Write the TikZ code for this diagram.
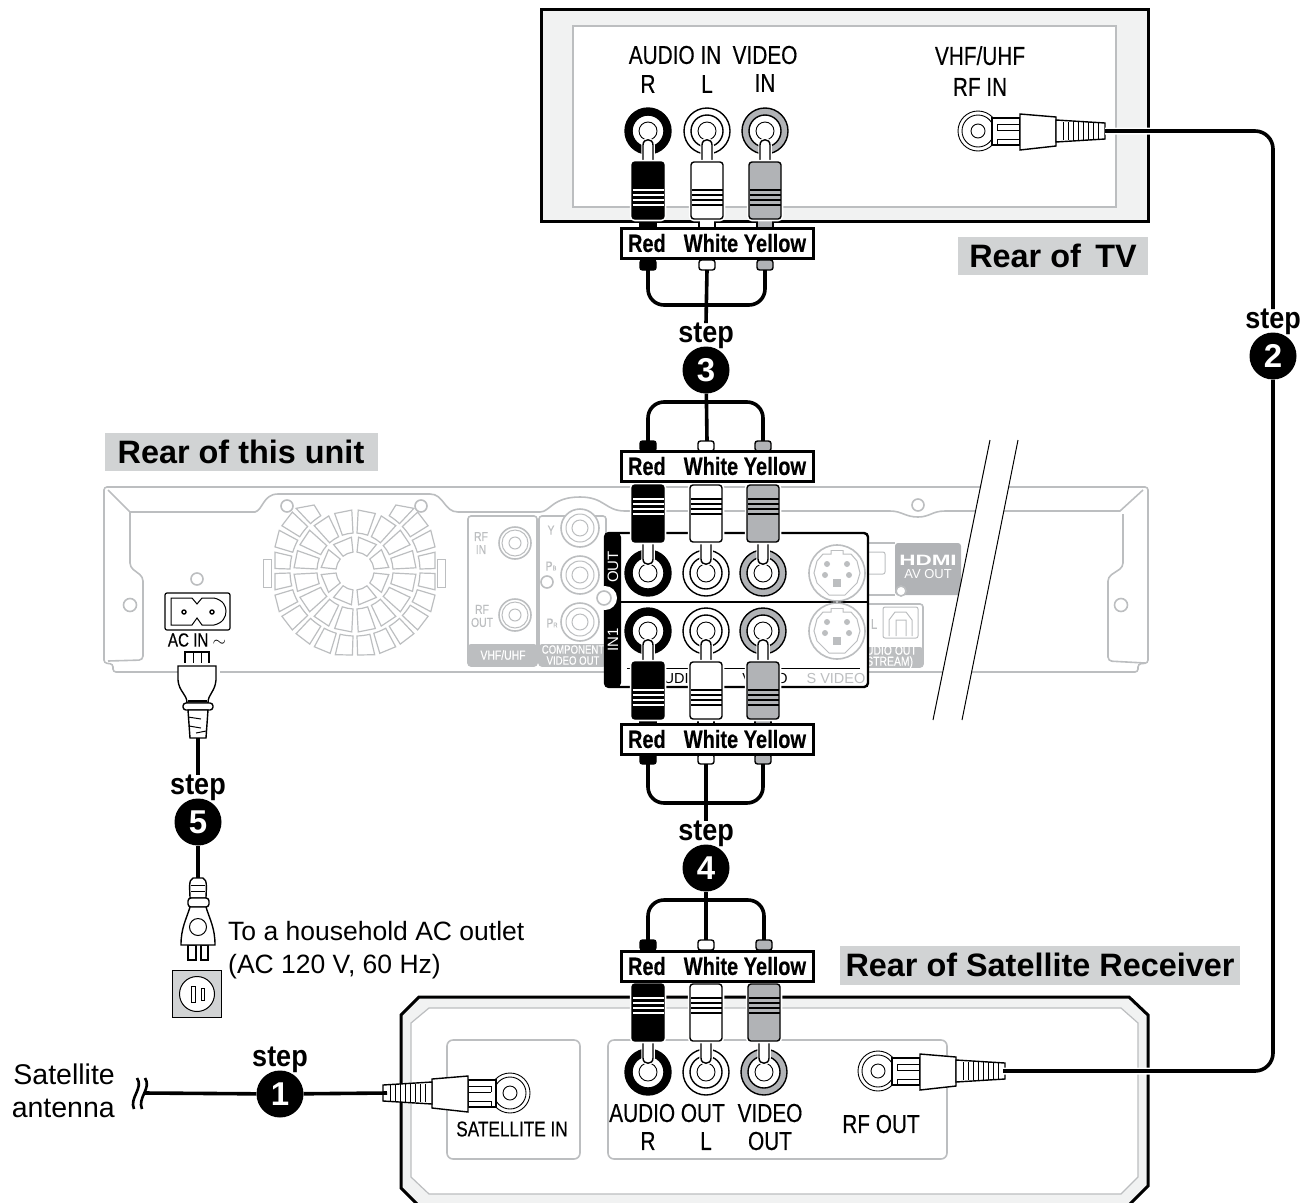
\documentclass[tikz,border=0pt]{standalone}
\usepackage{fontspec}
\setmainfont{Liberation Sans}
\newfontfamily\narrowfont[FakeStretch=0.8,FakeBold=0.3]{Liberation Sans}
\newfontfamily\stepfont[FakeStretch=0.9]{Liberation Sans}
\newfontfamily\widefont[FakeStretch=1.5]{Liberation Sans}
\usetikzlibrary{positioning,calc}
\definecolor{unitgray}{HTML}{BCBEC0}
\definecolor{jackgray}{HTML}{B1B3B6}
\definecolor{titlegray}{HTML}{D1D3D4}
\definecolor{bandgray}{HTML}{F1F2F2}
\begin{document}
\begin{tikzpicture}[
  x=1pt,y=-1pt,
  cable/.style={line width=3.6pt},
  coaxcable/.style={cable,preaction={draw=white,line width=7pt}},
  plugline/.style={draw=black,line width=1.4pt},
  unitline/.style={draw=unitgray,line width=1.6pt},
  tagbox/.style={draw,line width=3pt,fill=white,minimum width=192pt,minimum height=30pt,inner sep=0pt,
    font=\narrowfont\bfseries\fontsize{25}{25}\selectfont},
  titlebox/.style={fill=titlegray,inner sep=0pt,font=\bfseries\fontsize{32.4}{32}\selectfont},
  stepdot/.style={circle,fill=black,text=white,inner sep=0pt,minimum size=47pt,
    font=\bfseries\fontsize{33}{33}\selectfont},
  steptext/.style={inner sep=0pt,font=\stepfont\bfseries\fontsize{30}{30}\selectfont},
  sign/.style={inner sep=0pt,align=center,font=\narrowfont\fontsize{26}{29}\selectfont},
  signsmall/.style={inner sep=0pt,align=center,font=\narrowfont\fontsize{21.5}{24}\selectfont},
  plain/.style={inner sep=0pt,align=left,font=\fontsize{26.5}{33}\selectfont},
  unittext/.style={inner sep=0pt,align=center,text=unitgray,font=\narrowfont\fontsize{13}{13}\selectfont},
  bandtext/.style={inner sep=0pt,align=center,text=white,font=\narrowfont\fontsize{13}{11.5}\selectfont},
  pics/rcajack/.style={code={
    \draw[plugline,fill=#1] (0,0) circle (23pt);
    \draw[plugline,fill=white] (0,0) circle (16pt);
    \draw[line width=0.9pt] (0,0) circle (9pt);
  }},
  pics/rcaplug/.style 2 args={code={
    \draw[white,line width=3.5pt] (-5,32) -- (-5,14) .. controls (-5,7) and (5,7) .. (5,14) -- (5,32);
    \draw[plugline,fill=white] (-5,32) -- (-5,14) .. controls (-5,7) and (5,7) .. (5,14) -- (5,32);
    \draw[plugline,fill=#1] (-8,88) rectangle (8,98);
    \draw[white,line width=4.5pt,rounded corners=3pt] (-16,31) rectangle (16,88);
    \draw[plugline,fill=#1,rounded corners=3pt] (-16,31) rectangle (16,88);
    \foreach \band in {59,64,69,74}
      \draw[#2,line width=1.1pt] (-15.5,\band) -- (15.5,\band);
  }},
  pics/rcaboot/.style={code={
    \draw[plugline,fill=#1,rounded corners=2.5pt] (-8,0) rectangle (8,10);
  }},
  pics/coaxplug/.style={code={
    \draw[line width=0.9pt,fill=white] (0,0) circle (20pt);
    \draw[line width=0.9pt] (0,0) circle (16pt);
    \draw[line width=0.9pt] (0,0) circle (7pt);
    \draw[plugline,fill=white] (14,-13) rectangle (42,14);
    \draw[line width=0.9pt] (19,-7) -- (41,-7) (19,-1) -- (41,-1) (19,-7) -- (19,-1);
    \draw[line width=0.9pt] (19,14) -- (19,8) -- (41,8);
    \draw[plugline,fill=white] (42,-17) -- (78,-14) -- (78,15) -- (42,19) -- cycle;
    \draw[plugline,fill=white] (78,-11) -- (127,-8) -- (127,8) -- (78,11) -- cycle;
    \foreach \r in {85,90,95,100,105,110,115,120}
      \draw[line width=0.9pt] (\r,-9) -- (\r,9);
  }},
  pics/svideo/.style={code={
    \draw[unitline,fill=white] (0,0) circle (28pt);
    \draw[draw=unitgray,line width=1pt] (-6,-23) -- (-6,-19) -- (-14,-19) -- (-20,-12) -- (-23,0)
      -- (-20,10) -- (-8,22) -- (8,22) -- (20,10) -- (23,0) -- (20,-12) -- (14,-19) -- (6,-19) -- (6,-23);
    \draw[draw=unitgray,line width=1pt] (-6,-23) -- (6,-23);
    \fill[unitgray] (-10,-9) circle (3pt) (10,-9) circle (3pt) (-12,2) circle (3pt) (12,2) circle (3pt);
    \fill[unitgray] (-4,6) rectangle (4,14);
  }}
]
\useasboundingbox (0,0) rectangle (1311,1202);

% rear of this unit
\draw[unitline,rounded corners=3pt] (113,672) -- (113,664) -- (104,663) -- (104,487) -- (1148,487) -- (1148,663)
  -- (1138,664) -- (1138,672) -- cycle;
\draw[unitline] (108,490) -- (130,512) -- (255,512) .. controls (263,510) and (263,494) .. (278,494) -- (430,494)
  .. controls (444,494) and (444,512) .. (458,512) -- (540,512) .. controls (550,512) and (552,497) .. (580,497)
  .. controls (605,497) and (605,511) .. (625,511) -- (890,511) .. controls (902,511) and (905,517) .. (918,517)
  .. controls (930,517) and (932,511) .. (945,511) -- (1120,511) -- (1143,490);
\draw[unitline,rounded corners=4pt] (108,661) -- (143,660) -- (143,577) -- (130,567) -- (130,512);
\draw[unitline,rounded corners=4pt] (1145,663) -- (1108,661) -- (1108,577) -- (1123,567) -- (1123,514);

% fan grille
\begin{scope}[shift={(355,571)},x=1pt,y=1pt]
\foreach \ra/\rb/\n in {19/34/8,38/61/16,65/86/24}{
  \pgfmathsetmacro{\wd}{360/\n}
  \pgfmathsetmacro{\gp}{115/\ra}
  \foreach \i in {1,...,\n}{
    \pgfmathsetmacro{\ang}{(\i-1)*\wd+\gp}
    \pgfmathsetmacro{\bng}{\i*\wd-\gp}
    \pgfmathsetmacro{\ea}{min(\rb,min(80/max(abs(cos(\ang)),.01),(sin(\ang)>0?66:84)/max(abs(sin(\ang)),.01)))}
    \pgfmathsetmacro{\eb}{min(\rb,min(80/max(abs(cos(\bng)),.01),(sin(\bng)>0?66:84)/max(abs(sin(\bng)),.01)))}
    \pgfmathtruncatemacro{\skipcell}{(\ra==65 && \ang>59 && \ang<121) ? 1 : 0}
    \ifnum\skipcell=0
    \draw[unitline,line width=1.2pt] (\ang:\ra pt) arc[start angle=\ang,end angle=\bng,radius=\ra pt]
      -- (\bng:\eb pt) -- (\ang:\ea pt) -- cycle;
    \fi
  }
}
\end{scope}
\draw[unitline,line width=1pt] (263,559) rectangle (271,587) (437,559) rectangle (445,587);
\draw[unitline,fill=white] (130,605) circle (6.5pt) (1121,605) circle (6.5pt) (197,579) circle (6pt)
  (287,506) circle (6pt) (421,506) circle (6pt) (547,582) circle (6pt) (918,505) circle (6pt);

% left connector panels
\draw[unitline,rounded corners=3pt] (468,516) rectangle (537,666);
\fill[unitgray,rounded corners=3pt] (468,644) rectangle (537,666);
\node[bandtext] (vhfband) at (503,655) {VHF/UHF};
\draw[unitline,rounded corners=3pt] (539,516) rectangle (606,666);
\fill[unitgray,rounded corners=3pt] (539,644) rectangle (606,666);
\node[bandtext,font=\narrowfont\fontsize{12}{11}\selectfont] (compband) at (573,655) {COMPONENT\\VIDEO OUT};
\foreach \y in {543,615}{
  \draw[unitline,fill=white] (515,\y) circle (16pt);
  \draw[unitline,line width=1pt] (515,\y) circle (13pt) (515,\y) circle (6pt);
}
\foreach \y in {528,575,622}{
  \draw[unitline,fill=white] (580,\y) circle (19pt);
  \draw[unitline,line width=1pt] (580,\y) circle (14pt) (580,\y) circle (8pt);
}
\node[unittext] (rfinmark) at (481,543) {RF\\IN};
\node[unittext] (rfoutmark) at (482,616) {RF\\OUT};
\node[unittext] (ymark) at (551,530) {Y};
\node[unittext] (pbmark) at (551,566) {P\scriptsize B};
\node[unittext] (prmark) at (552,623) {P\scriptsize R};

% right connector panels
\draw[unitline] (868,543) -- (895,543) (868,595) -- (895,595);
\fill[jackgray,rounded corners=3pt] (895,543) rectangle (961,595);
\node[inner sep=0pt,text=white,font=\widefont\bfseries\fontsize{15}{15}\selectfont] (hdmimark) at (928,560) {HDMI};
\node[inner sep=0pt,text=white,font=\fontsize{13}{13}\selectfont] (avout) at (928,574) {AV OUT};
\draw[unitline,line width=1pt,rounded corners=2pt] (869,552) -- (885,552) -- (885,574) -- (869,574);
\draw[unitline,fill=white] (901,591) circle (5pt);
\draw[unitline,rounded corners=3pt] (860,604) rectangle (923,667);
\fill[unitgray,rounded corners=3pt] (860,647) rectangle (923,667);
\node[bandtext,anchor=east,font=\narrowfont\fontsize{13}{11}\selectfont] (audioband) at (917,657) {AUDIO OUT\\(STREAM)};
\draw[unitline,line width=1pt,rounded corners=2pt] (883,607) rectangle (918,638);
\draw[unitline,line width=1pt] (889,636) -- (889,620) -- (895,612) -- (906,612) -- (912,620) -- (912,636)
  (896,636) -- (896,620) -- (906,620) -- (906,636);
\node[unittext,font=\narrowfont\fontsize{14}{14}\selectfont] (lmark) at (874,624) {L};

% break of the unit
\fill[white] (990,440) -- (1018,440) -- (962,720) -- (933,720) -- cycle;
\draw[line width=1pt] (990,440) -- (933,720) (1018,440) -- (962,720);

% AC inlet
\draw[line width=1.2pt,fill=white,rounded corners=2pt] (165,593) rectangle (230,630);
\draw[line width=1pt] (171,598) -- (192,598) -- (197,604) -- (202,598) -- (214,598)
  .. controls (223,600) and (226,606) .. (226,611) .. controls (226,617) and (223,623) .. (214,625)
  -- (202,625) -- (197,618) -- (192,625) -- (171,625) -- cycle;
\draw[line width=1.4pt] (184,612) circle (2pt) (212,612) circle (2pt);
\node[inner sep=0pt,font=\narrowfont\fontsize{19}{19}\selectfont] (acin) at (197,640) {AC IN $\sim$};
\draw[plugline,fill=white] (185,652) rectangle (209,666);
\draw[line width=1pt] (193,652) -- (193,666) (201,652) -- (201,666);
\draw[white,line width=7pt] (178,666) -- (216,666) -- (216,678);
\draw[plugline,fill=white] (178,666) -- (216,666) -- (216,680) .. controls (215,692) and (208,694) .. (208,703)
  -- (187,703) .. controls (187,694) and (179,692) .. (178,680) -- cycle;
\draw[line width=1.1pt] (188,701) -- (207,701);
\draw[plugline,fill=white,rounded corners=3pt] (183,703) rectangle (213,710);
\draw[plugline,fill=white] (188,710) -- (208,710) -- (206,738) -- (190,738) -- cycle;
\draw[line width=1pt] (188,717) -- (201,719) (189,726) -- (201,728) (196,733) -- (206,731);

\coordinate (acplugend) at (198,738);
\node[stepdot] (stepe) at (198,822) {5};
\node[steptext,above=-3pt of stepe] (steplabele) {step};
\draw[cable] (acplugend) -- (steplabele.north);
\coordinate (wallplugend) at (198,878);
\draw[cable] (stepe) -- (wallplugend);

% wall plug and outlet
\draw[plugline,fill=white] (188,945) rectangle (196,960) (201,945) rectangle (208,960);
\draw[plugline,fill=white] (193,878) .. controls (188,880) and (190,890) .. (190,898) -- (206,898)
  .. controls (206,890) and (208,880) .. (203,878) -- cycle;
\draw[line width=1pt] (191,885) -- (205,885) (191,891) -- (205,891);
\draw[plugline,fill=white,rounded corners=3pt] (188,898) rectangle (209,907);
\draw[plugline,fill=white] (190,907) -- (206,907) .. controls (210,920) and (215,928) .. (215,945) -- (181,945)
  .. controls (181,928) and (186,920) .. (190,907) -- cycle;
\draw[line width=1pt] (198,927) circle (8.5pt);
\draw[line width=1pt,fill=titlegray] (172,970) rectangle (221,1017);
\draw[line width=1pt,fill=white] (197,994) circle (17.5pt);
\draw[line width=1pt] (191,986) rectangle (195,1002) (201,988) rectangle (204,1000);
\node[plain,anchor=north west] (outletnote) at (228,921) {To a household AC outlet\\(AC 120 V, 60 Hz)};

% rear of TV
\draw[line width=3pt,fill=bandgray] (541,9) rectangle (1148,221);
\draw[draw=unitgray,line width=1.2pt,fill=white] (573,26) rectangle (1116,207);
\node[sign] (tvaudio) at (675,55) {AUDIO IN};
\node[sign] (tvvideo) at (765,55) {VIDEO};
\node[sign] (tvr) at (648,84) {R};
\node[sign] (tvl) at (707,84) {L};
\node[sign] (tvin) at (765,83) {IN};
\node[sign] (tvrf) at (980,71) {VHF/UHF\\[2pt]RF IN};
\foreach \x/\c/\st in {648/black/white,707/white/black,765/jackgray/black}{
  \pic at (\x,131) {rcajack=\c};
  \pic at (\x,131) {rcaplug={\c}{\st}};
  \pic at (\x,260) {rcaboot=\c};
}
\pic at (978,131) {coaxplug};
\node[tagbox] (tvtag) at (717,243) {Red\hspace{18pt}White Yellow};
\node[titlebox,minimum width=190pt,minimum height=38pt] (tvtitle) at (1053,256) {Rear of\, TV};

\coordinate (tvwhite) at (707,270);
\coordinate (tvred) at (648,270);
\coordinate (tvyellow) at (765,270);
\coordinate (tvjoin) at (707,305);
\node[stepdot] (stepc) at (706,370) {3};
\node[steptext,above=-3pt of stepc] (steplabelc) {step};
\draw[cable,rounded corners=16pt] (tvred) |- (tvjoin) -| (tvyellow);
\draw[cable] (tvwhite) -- (steplabelc.north);

% cables into the unit
\coordinate (outwhite) at (707,441);
\coordinate (outred) at (648,441);
\coordinate (outyellow) at (763,441);
\coordinate (outjoin) at (706,402);
\draw[cable,rounded corners=16pt] (outred) |- (outjoin) -| (outyellow);
\draw[cable] (stepc) -- (outwhite);

% jack panel of the unit
\draw[line width=2.4pt,fill=white,rounded corners=4pt] (605,533) rectangle (868,687);
\fill[rounded corners=4pt] (605,533) rectangle (621,687);
\draw[line width=2pt] (621,602) -- (868,602);
\fill[white] (605,598) circle (12pt);
\draw[unitline,fill=white] (604,598) circle (7pt);
\node[inner sep=0pt,text=white,rotate=90,font=\fontsize{15}{15}\selectfont] (outmark) at (613,567) {OUT};
\node[inner sep=0pt,text=white,rotate=90,font=\fontsize{15}{15}\selectfont] (inmark) at (613,640) {IN1};
\draw[line width=1pt] (627,668) -- (860,668);
\node[inner sep=0pt,font=\fontsize{14.5}{15}\selectfont] (audiomark) at (677,678) {AUDIO};
\node[inner sep=0pt,font=\fontsize{14.5}{15}\selectfont] (videomark) at (765,678) {VIDEO};
\node[inner sep=0pt,text=unitgray,font=\fontsize{14.5}{15}\selectfont] (svideomark) at (836,678) {S VIDEO};
\pic at (837,573) {svideo};
\pic at (837,631) {svideo};
\foreach \x/\c/\st in {648/black/white,706/white/black,763/jackgray/black}{
  \pic at (\x,573) {rcajack=\c};
  \pic at (\x,631) {rcajack=\c};
  \pic[rotate=180] at (\x,573) {rcaplug={\c}{\st}};
  \pic at (\x,631) {rcaplug={\c}{\st}};
  \pic at (\x,441) {rcaboot=\c};
  \pic at (\x,754) {rcaboot=\c};
}
\node[tagbox] (outtag) at (717,466) {Red\hspace{18pt}White Yellow};
\node[tagbox] (intag) at (717,739) {Red\hspace{18pt}White Yellow};
\node[titlebox,minimum width=273pt,minimum height=38pt] (unittitle) at (241,452) {Rear of this unit};

\coordinate (inwhite) at (706,764);
\coordinate (inred) at (648,764);
\coordinate (inyellow) at (763,764);
\coordinate (injoin) at (706,803);
\node[stepdot] (stepd) at (706,868) {4};
\node[steptext,above=-3pt of stepd] (steplabeld) {step};
\draw[cable,rounded corners=16pt] (inred) |- (injoin) -| (inyellow);
\draw[cable] (inwhite) -- (steplabeld.north);
\coordinate (satwhite) at (706,940);
\coordinate (satred) at (648,940);
\coordinate (satyellow) at (764,940);
\coordinate (satjoin) at (706,900);
\draw[cable,rounded corners=16pt] (satred) |- (satjoin) -| (satyellow);
\draw[cable] (stepd) -- (satwhite);

% rear of satellite receiver
\draw[line width=3pt,fill=bandgray] (419,1206) -- (401,1188) -- (401,1015) -- (419,997) -- (1129,997) -- (1148,1015)
  -- (1148,1186) -- (1128,1206);
\draw[draw=unitgray,line width=1.2pt,fill=white] (411,1023) -- (429,1008) -- (1121,1008) -- (1138,1023)
  -- (1138,1177) -- (1121,1194) -- (429,1194) -- (411,1177) -- cycle;
\draw[unitline,rounded corners=6pt] (447,1040) rectangle (580,1159);
\draw[unitline,rounded corners=6pt] (608,1040) rectangle (947,1159);
\node[signsmall] (satinmark) at (512,1129) {SATELLITE IN};
\node[sign] (sataudio) at (667,1113) {AUDIO OUT};
\node[sign] (satvideo) at (770,1113) {VIDEO};
\node[sign] (satr) at (648,1141) {R};
\node[sign] (satl) at (706,1141) {L};
\node[sign] (satout) at (770,1141) {OUT};
\node[sign] (satrf) at (881,1124) {RF OUT};
\foreach \x/\c/\st in {648/black/white,706/white/black,764/jackgray/black}{
  \pic at (\x,1072) {rcajack=\c};
  \pic[rotate=180] at (\x,1072) {rcaplug={\c}{\st}};
  \pic at (\x,940) {rcaboot=\c};
}
\node[tagbox] (sattag) at (717,966) {Red\hspace{18pt}White Yellow};
\pic at (878,1071) {coaxplug};
\pic[xscale=-1] at (510,1093) {coaxplug};
\node[titlebox,minimum width=400pt,minimum height=39pt] (sattitle) at (1040,965) {Rear of Satellite Receiver};

% coaxial cables
\coordinate (tvcoax) at (1105,131);
\coordinate (satcoax) at (1003,1071);
\coordinate (inletcoax) at (387,1093);
\coordinate (antennaend) at (145,1093);
\node[stepdot] (stepb) at (1273,356) {2};
\node[steptext,above=-3pt of stepb] (steplabelb) {step};
\draw[coaxcable,rounded corners=18pt] (tvcoax) -| (steplabelb.north);
\draw[coaxcable,rounded corners=18pt] (stepb) |- (satcoax);
\node[stepdot] (stepa) at (280,1094) {1};
\node[steptext,above=-3pt of stepa] (steplabela) {step};
\draw[cable] (antennaend) -- (stepa) -- (inletcoax);
\draw[line width=2.6pt] (145,1078) .. controls (152,1088) and (137,1098) .. (142,1109)
  (137,1078) .. controls (144,1088) and (129,1098) .. (134,1109);
\node[plain,align=right,anchor=east,font=\fontsize{28.5}{33}\selectfont] (antennanote) at (115,1091) {Satellite\\antenna};
\end{tikzpicture}
\end{document}
